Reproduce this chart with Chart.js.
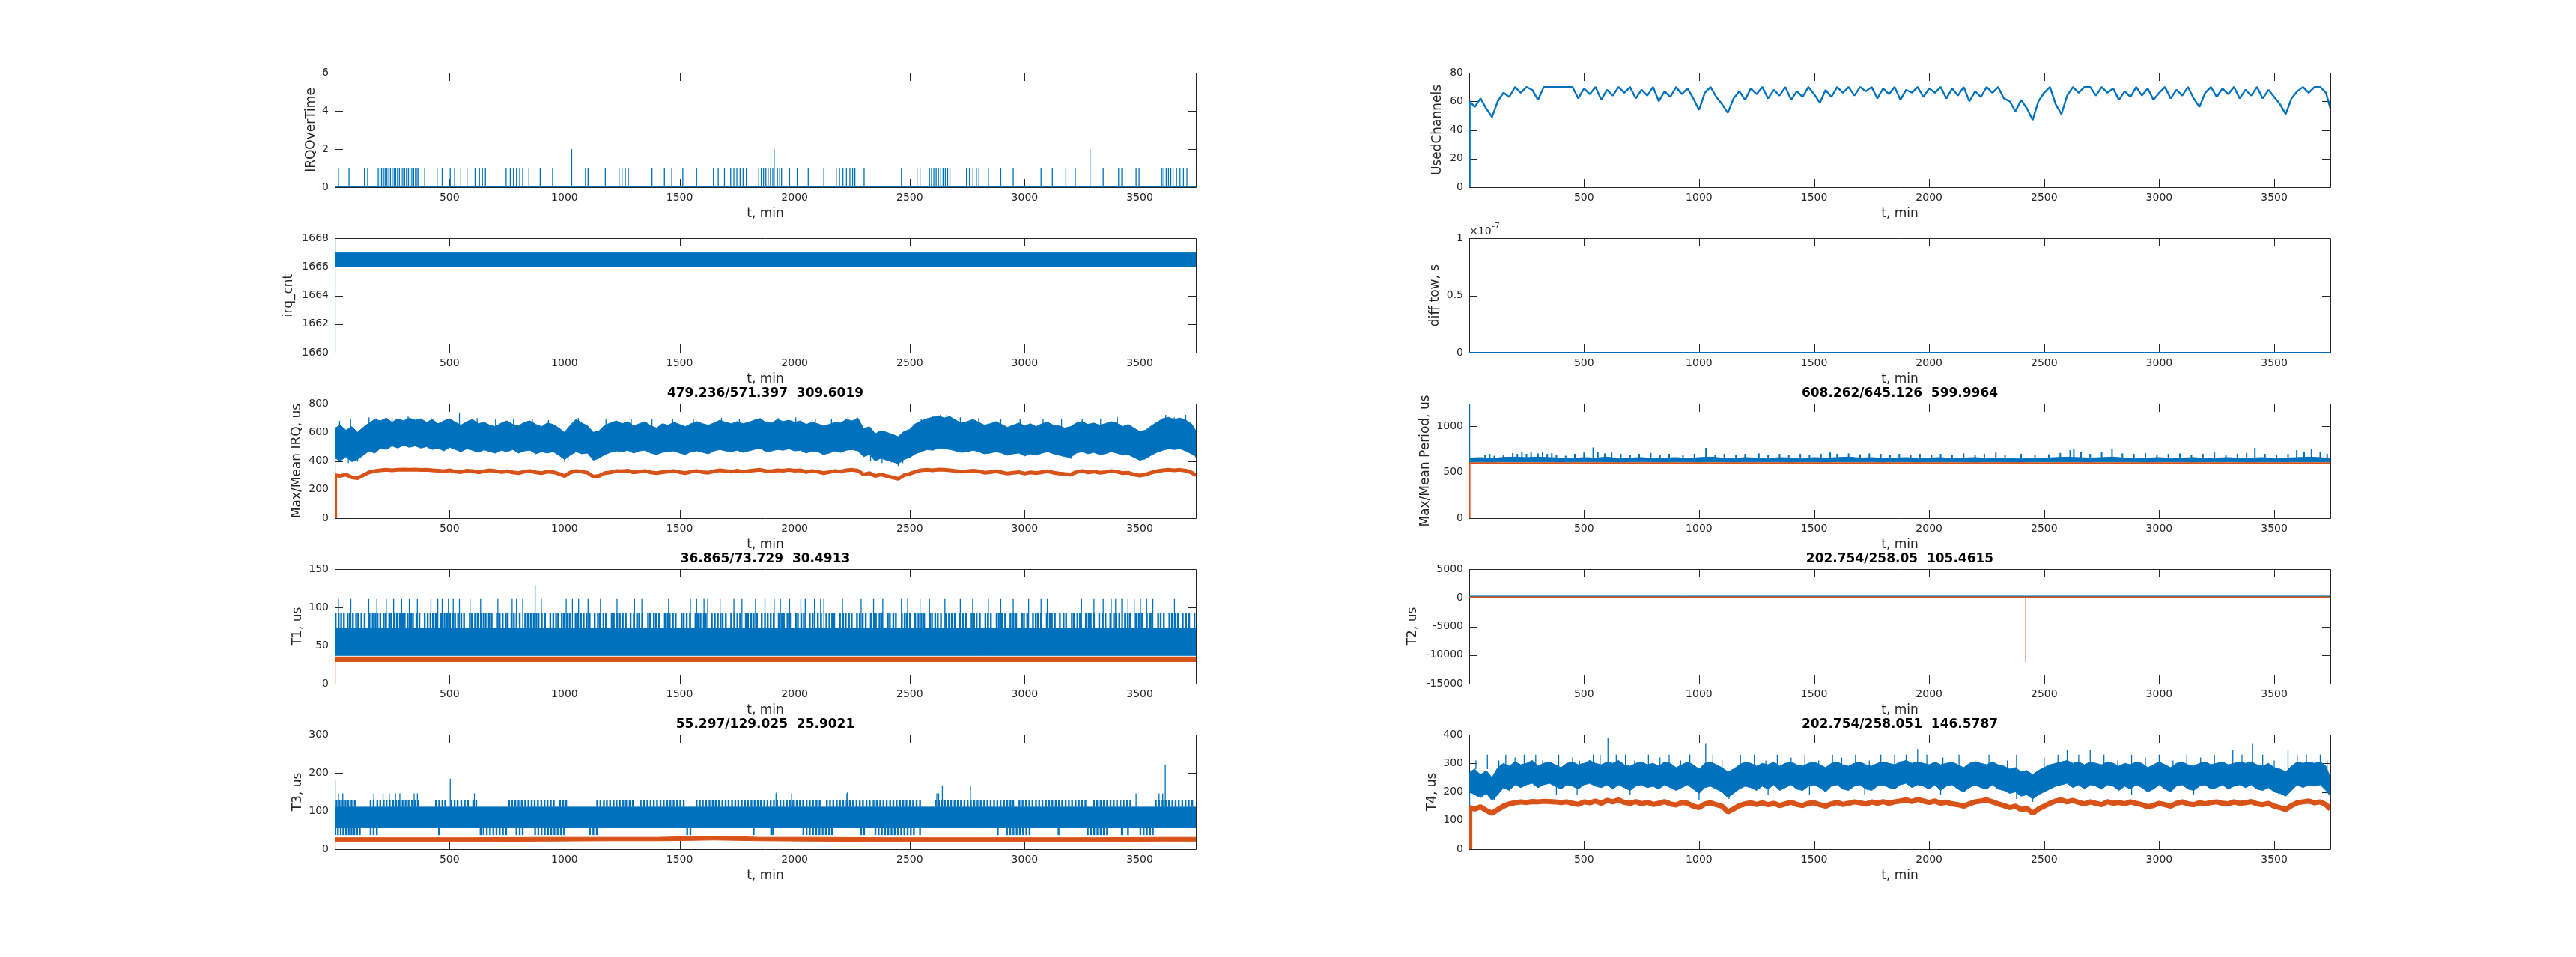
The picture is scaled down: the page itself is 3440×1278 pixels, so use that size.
<!DOCTYPE html>
<html>
<head>
<meta charset="utf-8">
<script src="https://cdn.jsdelivr.net/npm/chart.js@4.4.1/dist/chart.umd.min.js"></script>
<style>
html, body { margin: 0; padding: 0; background: #fff; }
body { width: 3440px; height: 1278px; position: relative; overflow: hidden; }
canvas { position: absolute; }
</style>
</head>
<body>
<script>
// ---- time axis (minutes) ----
const tRange = [1, 3744];
const xTickValues = [500, 1000, 1500, 2000, 2500, 3000, 3500];
const tEnds = [1, 3744];
const tStart = [1, 3, 3744];
const tGrid = [1, 3, 50, 100, 150, 200, 250, 300, 350, 400, 450, 500, 550, 600, 650, 700, 750, 800, 850, 900,
    950, 1000, 1050, 1100, 1150, 1200, 1250, 1300, 1350, 1400, 1450, 1500, 1550, 1600, 1650, 1700, 1750, 1800,
    1850, 1900, 1950, 2000, 2050, 2100, 2150, 2200, 2250, 2300, 2350, 2400, 2450, 2500, 2550, 2600, 2650, 2700,
    2750, 2800, 2850, 2900, 2950, 3000, 3050, 3100, 3150, 3200, 3250, 3300, 3350, 3400, 3450, 3500, 3550, 3600,
    3650, 3700, 3744];
const tFine = [1, 3, 25, 50, 75, 100, 125, 150, 175, 200, 225, 250, 275, 300, 325, 350, 375, 400, 425, 450, 475,
    500, 525, 550, 575, 600, 625, 650, 675, 700, 725, 750, 775, 800, 825, 850, 875, 900, 925, 950, 975, 1000,
    1025, 1050, 1075, 1100, 1125, 1150, 1175, 1200, 1225, 1250, 1275, 1300, 1325, 1350, 1375, 1400, 1425, 1450,
    1475, 1500, 1525, 1550, 1575, 1600, 1625, 1650, 1675, 1700, 1725, 1750, 1775, 1800, 1825, 1850, 1875, 1900,
    1925, 1950, 1975, 2000, 2025, 2050, 2075, 2100, 2125, 2150, 2175, 2200, 2225, 2250, 2275, 2300, 2325, 2350,
    2375, 2400, 2425, 2450, 2475, 2500, 2525, 2550, 2575, 2600, 2625, 2650, 2675, 2700, 2725, 2750, 2775, 2800,
    2825, 2850, 2875, 2900, 2925, 2950, 2975, 3000, 3025, 3050, 3075, 3100, 3125, 3150, 3175, 3200, 3225, 3250,
    3275, 3300, 3325, 3350, 3375, 3400, 3425, 3450, 3475, 3500, 3525, 3550, 3575, 3600, 3625, 3650, 3675, 3700,
    3725, 3744];

// ---- IRQOverTime ----
const irqOverBase = [0, 0];
const irqOverLevels = [1, 2, 6];
const irqOverOnce = [17, 63, 130, 144, 190, 198, 205, 213, 220, 228, 236, 243, 251, 259, 266, 274, 282, 290, 297,
    305, 313, 321, 328, 336, 344, 352, 359, 365, 392, 446, 468, 503, 522, 549, 576, 611, 630, 643, 656, 746, 764,
    778, 791, 805, 818, 845, 894, 948, 1091, 1102, 1177, 1237, 1250, 1264, 1277, 1380, 1434, 1466, 1514, 1574,
    1647, 1668, 1695, 1722, 1736, 1749, 1763, 1776, 1790, 1844, 1855, 1865, 1875, 1885, 1895, 1905, 1925, 1935,
    1943, 1978, 2011, 2059, 2127, 2181, 2195, 2210, 2225, 2240, 2252, 2262, 2302, 2464, 2532, 2545, 2586, 2595,
    2605, 2615, 2625, 2635, 2645, 2655, 2665, 2675, 2747, 2760, 2775, 2790, 2801, 2842, 2896, 2950, 3071, 3120,
    3179, 3220, 3341, 3408, 3422, 3484, 3497, 3597, 3605, 3615, 3625, 3635, 3645, 3660, 3675, 3690, 3705];
const irqOverTwice = [1031, 1911, 3284];
const irqOverFirst = [1];

// ---- irq_cnt ----
const irqCntLo = [1660, 1666, 1666];
const irqCntHi = [1668, 1667, 1667];

// ---- Max/Mean IRQ (on tFine) ----
const irqMaxHi = [620, 630,
    650, 615, 640, 600, 635, 665, 690, 680, 700, 670,
    695, 680, 700, 685, 695, 670, 690, 660, 680, 695,
    670, 650, 675, 690, 660, 670, 650, 640, 665, 680,
    655, 645, 670, 680, 655, 640, 665, 655, 630, 600,
    650, 690, 665, 645, 600, 610, 650, 665, 680, 660,
    675, 645, 660, 675, 645, 630, 660, 650, 670, 655,
    640, 660, 675, 660, 650, 665, 685, 670, 660, 675,
    660, 670, 685, 695, 670, 665, 690, 675, 685, 670,
    680, 655, 670, 660, 645, 655, 670, 665, 690, 680,
    700, 625, 640, 590, 610, 600, 585, 570, 605, 620,
    660, 680, 695, 705, 715, 700, 710, 685, 665, 675,
    690, 670, 650, 660, 675, 655, 635, 650, 665, 645,
    660, 640, 660, 670, 650, 645, 630, 640, 665, 675,
    655, 665, 650, 660, 675, 665, 640, 655, 630, 605,
    615, 645, 670, 695, 705, 690, 700, 685, 660,
    610];
const irqMaxLo = [0, 420,
    400, 430, 395, 410, 440, 470, 455, 490, 480, 505,
    490, 510, 495, 505, 490, 500, 480, 490, 470, 495,
    480, 465, 485, 475, 460, 478, 465, 455, 475, 465,
    480, 455, 470, 475, 450, 465, 455, 465, 440, 410,
    440, 465, 450, 455, 405, 420, 445, 460, 470, 465,
    475, 455, 470, 475, 455, 445, 460, 465, 470, 455,
    445, 465, 470, 460, 450, 470, 480, 470, 465, 475,
    460, 470, 480, 490, 465, 470, 480, 475, 485, 470,
    475, 455, 470, 465, 445, 455, 470, 460, 475, 480,
    470, 430, 445, 400, 420, 405, 395, 380, 410, 425,
    450, 465, 480, 475, 490, 485, 480, 470, 460, 465,
    475, 465, 450, 455, 465, 455, 440, 450, 455, 435,
    450, 440, 455, 465, 450, 440, 430, 425, 455, 465,
    450, 460, 445, 450, 465, 455, 440, 445, 425, 405,
    415, 440, 460, 475, 485, 480, 485, 470, 450,
    430];
const irqMean = [0, 300,
    295, 305, 285, 280, 300, 320, 330, 335, 338, 335,
    338, 340, 338, 340, 337, 338, 335, 332, 328, 335,
    325, 322, 332, 330, 320, 328, 335, 330, 322, 328,
    320, 315, 325, 330, 320, 315, 325, 322, 310, 295,
    320, 330, 325, 318, 290, 295, 315, 320, 330, 328,
    332, 320, 325, 330, 320, 315, 322, 325, 330, 322,
    315, 325, 330, 322, 318, 328, 335, 330, 325, 332,
    325, 330, 335, 338, 330, 328, 335, 332, 338, 332,
    335, 322, 330, 325, 315, 322, 330, 325, 335, 338,
    332, 305, 315, 295, 305, 295, 285, 275, 300, 310,
    325, 335, 338, 335, 340, 338, 335, 330, 325, 328,
    332, 328, 318, 322, 328, 320, 312, 318, 322, 312,
    320, 315, 322, 328, 318, 312, 308, 305, 322, 330,
    320, 326, 318, 322, 330, 325, 315, 318, 305, 298,
    305, 318, 328, 335, 338, 335, 338, 332, 320,
    300];
const irqMaxUp = [[22, 680], [70, 690], [150, 705], [184, 700], [250, 705], [320, 710], [420, 700], [543, 738],
    [620, 700], [700, 690], [778, 695], [860, 690], [930, 685], [1060, 700], [1180, 690], [1290, 695],
    [1380, 690], [1470, 695], [1560, 690], [1682, 700], [1760, 695], [1850, 700], [1930, 700], [2005, 705],
    [2090, 695], [2160, 690], [2232, 705], [2270, 700], [2550, 690], [2600, 710], [2634, 722], [2661, 722],
    [2720, 705], [2800, 700], [2896, 695], [2980, 690], [3080, 690], [3160, 695], [3250, 690], [3330, 695],
    [3403, 705], [3613, 722], [3650, 705], [3700, 722]];
const irqMaxDown = [[60, 385], [100, 395], [1000, 395], [1015, 405], [1130, 405], [1145, 410], [2330, 400],
    [2380, 385], [2420, 390], [2450, 365], [2470, 385], [3200, 415], [3500, 405], [3520, 410], [3744, 420]];
const irqSpikeBase = [600, 520];

// ---- T1 ----
const t1MaxLo = [37, 37, 37];
const t1MaxHi = [73, 73, 73];
const t1MeanLo = [0, 29, 29];
const t1MeanHi = [0, 35, 35];
const t1Levels = [73, 93, 111];
const t1To93 = [5, 18, 29, 41, 57, 66, 80, 94, 103, 117, 131, 152, 166, 178, 187, 199, 214, 223, 238, 246, 259,
    271, 284, 297, 305, 318, 333, 341, 356, 369, 392, 405, 417, 428, 440, 463, 478, 489, 502, 516, 524, 537, 551,
    563, 588, 597, 611, 622, 636, 648, 657, 671, 683, 709, 718, 731, 745, 753, 769, 780, 791, 805, 829, 840, 853,
    866, 878, 887, 901, 915, 938, 951, 963, 972, 988, 997, 1011, 1022, 1048, 1057, 1071, 1083, 1096, 1109, 1131,
    1145, 1153, 1169, 1180, 1205, 1214, 1229, 1240, 1253, 1266, 1287, 1301, 1315, 1324, 1338, 1363, 1372, 1388,
    1397, 1411, 1436, 1448, 1457, 1471, 1483, 1509, 1518, 1531, 1545, 1569, 1580, 1591, 1605, 1614, 1640, 1653,
    1666, 1678, 1687, 1701, 1724, 1738, 1751, 1763, 1788, 1797, 1811, 1822, 1836, 1857, 1871, 1883, 1896, 1909,
    1931, 1945, 1953, 1969, 1980, 2005, 2014, 2029, 2040, 2066, 2078, 2087, 2101, 2115, 2138, 2151, 2163, 2172,
    2197, 2211, 2222, 2236, 2248, 2271, 2283, 2296, 2309, 2331, 2345, 2353, 2369, 2380, 2405, 2414, 2429, 2440,
    2466, 2478, 2487, 2501, 2524, 2538, 2551, 2563, 2588, 2597, 2611, 2622, 2636, 2657, 2671, 2683, 2696, 2718,
    2731, 2745, 2769, 2780, 2791, 2805, 2829, 2840, 2853, 2878, 2887, 2901, 2915, 2938, 2951, 2963, 2988, 2997,
    3011, 3036, 3048, 3057, 3071, 3096, 3109, 3118, 3131, 3153, 3169, 3180, 3205, 3214, 3229, 3240, 3266, 3278,
    3287, 3301, 3324, 3338, 3351, 3372, 3388, 3397, 3411, 3436, 3448, 3457, 3483, 3496, 3509, 3531, 3545, 3553,
    3580, 3591, 3605, 3629, 3640, 3653, 3666, 3687, 3701, 3715, 3738];
const t1To111 = [17, 71, 149, 184, 225, 257, 292, 325, 360, 419, 449, 468, 495, 516, 543, 589, 635, 710, 772, 791,
    818, 899, 1007, 1034, 1061, 1102, 1156, 1228, 1304, 1336, 1452, 1547, 1574, 1606, 1622, 1676, 1736, 1771,
    1830, 1871, 1911, 1938, 1978, 2027, 2046, 2086, 2113, 2127, 2208, 2289, 2343, 2383, 2464, 2491, 2545, 2586,
    2653, 2720, 2774, 2842, 2896, 2950, 3017, 3071, 3098, 3247, 3301, 3341, 3376, 3395, 3422, 3449, 3476, 3503,
    3530, 3557, 3651];
const t1Peak = [[872, 129]];

// ---- T3 ----
const t3MaxLo = [56, 56, 56];
const t3MaxHi = [180, 110, 110];
const t3Levels = [56, 110, 128, 146, 37];
const t3MeanT = [1, 3, 300, 600, 900, 1200, 1400, 1550, 1650, 1750, 1850, 2100, 2400, 2700, 3000, 3300, 3600, 3744];
const t3MeanHi = [0, 30, 30, 30, 31, 31, 31, 33, 34, 33, 31, 31, 30, 30, 30, 30, 31, 31];
const t3MeanLo = [0, 20, 20, 20, 21, 22, 22, 23, 24, 23, 22, 21, 20, 20, 20, 20, 21, 21];
const t3To128 = [9, 22, 35, 48, 60, 74, 88, 157, 170, 186, 199, 214, 226, 240, 255, 268, 281, 296, 309, 322, 337,
    350, 364, 441, 455, 469, 481, 508, 522, 535, 551, 566, 580, 603, 616, 759, 772, 786, 800, 814, 829, 843, 857,
    870, 884, 899, 913, 926, 940, 953, 980, 994, 1007, 1142, 1156, 1171, 1184, 1198, 1213, 1226, 1240, 1255,
    1268, 1283, 1297, 1331, 1345, 1360, 1374, 1388, 1402, 1417, 1431, 1446, 1460, 1474, 1489, 1503, 1518, 1574,
    1588, 1601, 1615, 1630, 1644, 1657, 1671, 1686, 1700, 1713, 1728, 1742, 1755, 1770, 1784, 1797, 1812, 1826,
    1840, 1853, 1868, 1882, 1896, 1910, 1924, 1938, 1951, 1966, 1980, 1994, 2009, 2023, 2037, 2052, 2066, 2080,
    2095, 2109, 2140, 2154, 2168, 2183, 2197, 2211, 2226, 2240, 2254, 2269, 2283, 2297, 2312, 2326, 2343, 2357,
    2372, 2386, 2400, 2415, 2429, 2443, 2458, 2472, 2486, 2501, 2515, 2530, 2545, 2613, 2627, 2641, 2653, 2666,
    2680, 2695, 2709, 2723, 2738, 2752, 2766, 2781, 2795, 2809, 2824, 2838, 2852, 2867, 2881, 2895, 2910, 2924,
    2938, 2950, 2977, 2991, 3006, 3020, 3034, 3049, 3063, 3077, 3092, 3106, 3120, 3135, 3149, 3163, 3178, 3192,
    3206, 3221, 3235, 3249, 3264, 3301, 3315, 3330, 3344, 3358, 3373, 3387, 3401, 3416, 3430, 3444, 3459, 3570,
    3584, 3599, 3613, 3627, 3642, 3656, 3670, 3685, 3699, 3713, 3728];
const t3To146 = [17, 36, 171, 211, 238, 265, 284, 346, 360, 608, 1919, 1987, 2227, 2618, 2626, 3484, 3584, 3600];
const t3Peaks = [[503, 185], [3611, 222], [2642, 167], [2764, 167], [1922, 150], [2230, 150]];
const t3To37 = [4, 15, 27, 38, 50, 62, 74, 86, 98, 110, 157, 170, 184, 454, 635, 648, 662, 676, 690, 704, 718,
    732, 746, 791, 805, 818, 872, 886, 900, 914, 928, 942, 956, 970, 984, 998, 1110, 1125, 1140, 1533, 1547, 1822,
    1898, 1906, 2038, 2052, 2066, 2080, 2094, 2108, 2122, 2136, 2150, 2162, 2289, 2302, 2351, 2365, 2379, 2393,
    2407, 2421, 2435, 2449, 2463, 2477, 2491, 2505, 2518, 2545, 2883, 2923, 2937, 2951, 2965, 2979, 2993, 3007,
    3021, 3147, 3274, 3288, 3302, 3316, 3330, 3344, 3358, 3422, 3449, 3503, 3517, 3531, 3545, 3557];

// ---- UsedChannels (on tFine) ----
const usedChannels = [0, 60, 56, 62, 55, 49, 60, 66, 63, 70, 66, 70,
    68, 61, 70, 70, 70, 70, 70, 70, 62, 69,
    65, 70, 61, 68, 64, 70, 66, 70, 62, 68,
    64, 70, 60, 67, 63, 70, 65, 69, 62, 54,
    66, 70, 63, 58, 52, 62, 67, 61, 69, 65,
    70, 62, 68, 64, 70, 61, 67, 63, 70, 65,
    59, 68, 63, 70, 66, 70, 64, 70, 67, 70,
    62, 69, 65, 70, 61, 68, 66, 70, 63, 69,
    66, 70, 62, 69, 64, 70, 60, 67, 63, 70,
    66, 70, 62, 60, 53, 61, 55, 47, 60, 66,
    70, 58, 51, 64, 70, 66, 70, 70, 64, 70,
    66, 69, 61, 67, 63, 70, 64, 69, 61, 66,
    70, 62, 68, 64, 70, 62, 56, 66, 70, 63,
    69, 65, 70, 62, 68, 64, 70, 62, 68, 63,
    58, 51, 62, 67, 70, 66, 70, 70, 66,
    55];

// ---- diff tow ----
const diffTow = [0, 0];
const diffTowTicks = [0, 0.5e-7, 1e-7];

// ---- Max/Mean Period (on tGrid) ----
const periodMaxHi = [1246, 655, 660, 650, 662, 665, 660, 665, 660, 655,
    650, 660, 655, 665, 650, 655, 660, 650, 655, 660,
    650, 660, 665, 655, 650, 660, 655, 650, 660, 655,
    650, 660, 655, 660, 665, 655, 660, 650, 655, 660,
    650, 655, 660, 650, 655, 660, 650, 655, 648, 645,
    650, 655, 660, 665, 660, 655, 660, 665, 655, 650,
    655, 660, 650, 655, 660, 650, 655, 660, 650, 655,
    660, 650, 655, 660, 665, 660, 650];
const periodMaxLo = [600, 612, 612, 610, 614, 612, 615, 612, 613, 611,
    612, 614, 612, 613, 610, 612, 614, 612, 611, 613,
    612, 610, 614, 612, 611, 613, 612, 614, 612, 610,
    613, 612, 611, 614, 612, 613, 612, 610, 614, 612,
    611, 613, 612, 614, 612, 610, 613, 612, 611, 610,
    612, 614, 612, 613, 612, 611, 614, 612, 613, 612,
    610, 612, 614, 612, 611, 613, 612, 614, 612, 610,
    613, 612, 611, 614, 612, 613, 612];
const periodMean = [0, 600, 600];
const periodSpikeBase = [640];
const periodUp = [[70, 690], [90, 700], [110, 680], [150, 690], [190, 710], [210, 700], [230, 715], [250, 700],
    [270, 715], [300, 705], [320, 715], [340, 700], [360, 710], [380, 690], [420, 680], [460, 700], [500, 715],
    [540, 770], [560, 720], [590, 705], [620, 715], [660, 700], [700, 690], [740, 700], [790, 710], [830, 690],
    [870, 700], [930, 690], [980, 700], [1030, 765], [1070, 690], [1110, 700], [1160, 690], [1200, 700],
    [1260, 705], [1300, 690], [1350, 700], [1390, 690], [1440, 700], [1480, 690], [1530, 700], [1570, 715],
    [1600, 700], [1650, 705], [1700, 695], [1740, 705], [1790, 700], [1830, 690], [1870, 700], [1920, 690],
    [1960, 700], [2010, 690], [2050, 700], [2100, 690], [2150, 705], [2200, 690], [2240, 700], [2290, 715],
    [2330, 690], [2400, 700], [2460, 690], [2520, 695], [2570, 710], [2613, 740], [2629, 754], [2660, 720],
    [2700, 700], [2750, 720], [2795, 754], [2840, 705], [2890, 700], [2940, 710], [2990, 690], [3040, 700],
    [3090, 705], [3140, 690], [3190, 700], [3240, 715], [3290, 690], [3340, 700], [3380, 710], [3416, 765],
    [3460, 700], [3510, 690], [3560, 700], [3598, 740], [3630, 720], [3662, 754], [3700, 720], [3730, 700]];

// ---- T2 ----
const t2MaxLo = [150, 150];
const t2MaxHi = [300, 300];
const t2Mean = [100, 100];
const t2MeanBase = [100];
const t2Drop = [[2420, -11217]];

// ---- T4 (on tFine) ----
const t4MaxHi = [0, 270,
    280, 260, 275, 250, 285, 300, 290, 305, 295, 300,
    310, 290, 300, 305, 295, 285, 300, 305, 295, 300,
    310, 300, 295, 305, 300, 310, 295, 290, 300, 305,
    295, 300, 290, 305, 300, 285, 295, 305, 295, 280,
    300, 305, 295, 285, 270, 280, 295, 305, 300, 290,
    300, 295, 305, 290, 300, 305, 295, 290, 300, 305,
    295, 285, 300, 305, 295, 290, 300, 305, 295, 290,
    300, 305, 300, 295, 305, 310, 300, 305, 300, 295,
    305, 295, 300, 305, 295, 285, 300, 305, 300, 295,
    305, 295, 290, 280, 285, 270, 275, 260, 275, 285,
    295, 300, 305, 310, 300, 305, 295, 305, 300, 295,
    305, 300, 290, 300, 295, 305, 300, 285, 295, 305,
    295, 285, 300, 305, 295, 290, 300, 305, 295, 300,
    305, 295, 300, 305, 300, 305, 295, 290, 300, 285,
    280, 270, 290, 305, 300, 305, 300, 305, 290,
    250];
const t4MaxLo = [0, 200,
    190, 180, 195, 170, 190, 215, 205, 225, 215, 225,
    230, 215, 225, 230, 220, 210, 225, 220, 210, 225,
    230, 220, 215, 225, 210, 225, 215, 205, 220, 225,
    215, 220, 210, 225, 215, 205, 215, 225, 210, 195,
    215, 220, 210, 200, 180, 195, 210, 220, 215, 205,
    220, 210, 225, 205, 215, 225, 210, 205, 220, 225,
    215, 200, 220, 225, 210, 205, 220, 225, 210, 205,
    220, 225, 215, 210, 225, 230, 215, 225, 220, 210,
    225, 205, 220, 225, 210, 200, 215, 225, 215, 210,
    225, 210, 205, 195, 200, 185, 190, 175, 190, 200,
    210, 220, 225, 230, 215, 225, 210, 225, 220, 210,
    225, 220, 205, 220, 210, 225, 215, 200, 210, 225,
    210, 200, 220, 225, 210, 205, 220, 225, 210, 215,
    225, 210, 220, 225, 215, 225, 210, 205, 215, 200,
    195, 185, 205, 225, 215, 225, 220, 225, 205,
    185];
const t4Mean = [0, 145,
    140, 148, 135, 125, 138, 150, 158, 162, 165, 163,
    166, 165, 167, 166, 165, 163, 165, 160, 156, 165,
    162, 168, 160, 170, 165, 172, 163, 160, 166, 158,
    164, 156, 160, 166, 158, 154, 163, 160, 150, 145,
    158, 162, 155, 150, 130, 140, 152, 158, 162, 156,
    162, 155, 160, 152, 158, 164, 156, 152, 160, 162,
    155, 150, 158, 163, 156, 160, 165, 162, 157, 165,
    160, 166, 160, 165, 168, 172, 166, 174, 168, 163,
    168, 160, 164, 158, 155, 150, 158, 165, 168, 172,
    165, 158, 152, 145, 150, 138, 142, 125, 140, 150,
    160, 168, 172, 165, 170, 163, 158, 165, 160, 155,
    166, 160, 163, 158, 165, 160, 155, 148, 152, 160,
    155, 150, 160, 165, 158, 155, 162, 158, 163, 165,
    160, 158, 165, 160, 162, 166, 158, 155, 160, 150,
    145, 138, 152, 162, 165, 168, 162, 165, 155,
    140];
const t4SpikeBase = [280, 230];
const t4Up = [[30, 310], [80, 330], [130, 310], [160, 330], [200, 320], [240, 330], [290, 330], [320, 310],
    [390, 330], [450, 320], [480, 310], [540, 330], [570, 330], [604, 388], [640, 330], [680, 330], [720, 310],
    [780, 330], [830, 320], [870, 330], [920, 310], [960, 330], [1029, 370], [1060, 330], [1100, 310],
    [1180, 330], [1240, 330], [1290, 310], [1340, 330], [1400, 320], [1460, 330], [1520, 310], [1580, 330],
    [1620, 320], [1680, 330], [1740, 310], [1790, 330], [1850, 330], [1900, 330], [1950, 350], [1990, 330],
    [2060, 320], [2130, 330], [2200, 310], [2260, 330], [2340, 310], [2380, 330], [2500, 320], [2560, 330],
    [2600, 345], [2650, 330], [2700, 345], [2760, 330], [2820, 310], [2880, 330], [2940, 320], [3000, 330],
    [3060, 310], [3120, 330], [3180, 320], [3240, 330], [3320, 345], [3360, 330], [3405, 370], [3450, 330],
    [3500, 310], [3560, 345], [3600, 330], [3640, 330], [3700, 330], [3730, 310]];
const t4Down = [[110, 170], [380, 190], [470, 190], [700, 190], [1000, 170], [1130, 175], [1300, 190],
    [1480, 190], [1720, 190], [2050, 190], [2380, 175], [2450, 165], [2880, 190], [3150, 190], [3520, 190],
    [3560, 180]];

// ---- look ----
const BLUE = "#0072BD";
const ORANGE = "#D95319";
const AXIS = "#262626";
const AX_LEFT = [447, 1962];
const AX_TOP = [97, 318, 539, 760, 981];
const AX_W = 1150, AX_H = 153;
const TOP_PAD = 45, BOTTOM_PAD = 50, RIGHT_PAD = 12;

Chart.defaults.font.family = "DejaVu Sans";
Chart.defaults.color = AXIS;

function pts(ts, vs) {
    return ts.map((t, i) => ({x: t, y: vs[i]}));
}

function line(ts, vs, color, width, order) {
    return {type: "line", data: pts(ts, vs), borderColor: color, borderWidth: width,
        pointRadius: 0, fill: false, tension: 0, borderJoinStyle: "bevel", order: order};
}

function band(ts, lo, hi, color, order) {
    return [
        {type: "line", data: pts(ts, lo), borderColor: color, borderWidth: 1, pointRadius: 0, fill: false, order: order},
        {type: "line", data: pts(ts, hi), borderColor: color, borderWidth: 1, pointRadius: 0,
            fill: "-1", backgroundColor: color, order: order}
    ];
}

// vertical needles between two levels at each listed time
function stems(times, lo, hi, color, order, width) {
    return {type: "bar", data: times.map(t => ({x: t, y: [lo, hi]})), backgroundColor: color,
        barThickness: width || 1.3, inflateAmount: 0, borderWidth: 0, grouped: false, order: order};
}

function needles(pairs, base, color, order, width) {
    return {type: "bar", data: pairs.map(p => ({x: p[0], y: [base, p[1]]})), backgroundColor: color,
        barThickness: width || 1.3, inflateAmount: 0, borderWidth: 0, grouped: false, order: order};
}

const boxPlugin = {
    id: "box",
    beforeDatasetsDraw(chart) {
        const {ctx, chartArea: a, scales: {x, y}} = chart;
        const tick = 11;
        ctx.save();
        ctx.strokeStyle = AXIS;
        ctx.lineWidth = 1;
        ctx.beginPath();
        ctx.rect(a.left + 0.5, a.top + 0.5, a.right - a.left, a.bottom - a.top);
        x.ticks.forEach(t => {
            const px = Math.round(x.getPixelForValue(t.value)) + 0.5;
            ctx.moveTo(px, a.bottom);
            ctx.lineTo(px, a.bottom - tick);
            ctx.moveTo(px, a.top);
            ctx.lineTo(px, a.top + tick);
        });
        y.ticks.forEach(t => {
            const py = Math.round(y.getPixelForValue(t.value)) + 0.5;
            ctx.moveTo(a.left, py);
            ctx.lineTo(a.left + tick, py);
            ctx.moveTo(a.right, py);
            ctx.lineTo(a.right - tick, py);
        });
        ctx.stroke();
        ctx.restore();
    },
    afterDraw(chart, args, opts) {
        if (!opts.exponent) return;
        const {ctx, chartArea: a} = chart;
        ctx.save();
        ctx.fillStyle = AXIS;
        ctx.textBaseline = "alphabetic";
        ctx.font = "14px 'DejaVu Sans'";
        ctx.fillText("\u00d710", a.left, a.top - 5);
        const w = ctx.measureText("\u00d710").width;
        ctx.font = "10px 'DejaVu Sans'";
        ctx.fillText(opts.exponent, a.left + w + 1, a.top - 13);
        ctx.restore();
    }
};

const plain = v => String(v);

const panels = [
    {col: 0, row: 0, labelX: 415, ylabel: "IRQOverTime", yMin: 0, yMax: 6, yTicks: [0, 2, 4, 6],
        datasets: [
            line(tEnds, irqOverBase, BLUE, 2, 2),
            stems(irqOverOnce, 0, irqOverLevels[0], BLUE, 2),
            stems(irqOverTwice, 0, irqOverLevels[1], BLUE, 2),
            stems(irqOverFirst, 0, irqOverLevels[2], BLUE, 2)
        ]},
    {col: 0, row: 1, labelX: 385, ylabel: "irq_cnt", yMin: 1660, yMax: 1668, yTicks: [1660, 1662, 1664, 1666, 1668],
        datasets: band(tStart, irqCntLo, irqCntHi, BLUE, 2)},
    {col: 0, row: 2, labelX: 396, ylabel: "Max/Mean IRQ, us", title: "479.236/571.397  309.6019",
        yMin: 0, yMax: 800, yTicks: [0, 200, 400, 600, 800],
        datasets: [
            ...band(tFine, irqMaxLo, irqMaxHi, BLUE, 3),
            needles(irqMaxUp, irqSpikeBase[0], BLUE, 2),
            needles(irqMaxDown, irqSpikeBase[1], BLUE, 2),
            line(tFine, irqMean, ORANGE, 5, 1)
        ]},
    {col: 0, row: 3, labelX: 397, ylabel: "T1, us", title: "36.865/73.729  30.4913",
        yMin: 0, yMax: 150, yTicks: [0, 50, 100, 150],
        datasets: [
            ...band(tStart, t1MaxLo, t1MaxHi, BLUE, 3),
            stems(t1To93, t1Levels[0], t1Levels[1], BLUE, 2, 2.4),
            stems(t1To111, t1Levels[0], t1Levels[2], BLUE, 2),
            needles(t1Peak, t1Levels[0], BLUE, 2),
            ...band(tStart, t1MeanLo, t1MeanHi, ORANGE, 1)
        ]},
    {col: 0, row: 4, labelX: 397, ylabel: "T3, us", title: "55.297/129.025  25.9021",
        yMin: 0, yMax: 300, yTicks: [0, 100, 200, 300],
        datasets: [
            ...band(tStart, t3MaxLo, t3MaxHi, BLUE, 3),
            stems(t3To128, t3Levels[1], t3Levels[2], BLUE, 2, 2.4),
            stems(t3To146, t3Levels[1], t3Levels[3], BLUE, 2),
            needles(t3Peaks, t3Levels[1], BLUE, 2),
            stems(t3To37, t3Levels[4], t3Levels[0], BLUE, 2, 2.4),
            ...band(t3MeanT, t3MeanLo, t3MeanHi, ORANGE, 1)
        ]},
    {col: 1, row: 0, labelX: 1919, ylabel: "UsedChannels", yMin: 0, yMax: 80, yTicks: [0, 20, 40, 60, 80],
        datasets: [line(tFine, usedChannels, BLUE, 2.4, 2)]},
    {col: 1, row: 1, labelX: 1916, ylabel: "diff tow, s", yMin: 0, yMax: 1e-7, yTicks: diffTowTicks,
        exponent: "-7", yFmt: v => String(Math.round(v / 1e-7 * 10) / 10),
        datasets: [line(tEnds, diffTow, BLUE, 2, 2)]},
    {col: 1, row: 2, labelX: 1903, ylabel: "Max/Mean Period, us", title: "608.262/645.126  599.9964",
        yMin: 0, yMax: 1246, yTicks: [0, 500, 1000],
        datasets: [
            ...band(tGrid, periodMaxLo, periodMaxHi, BLUE, 3),
            needles(periodUp, periodSpikeBase[0], BLUE, 2, 2),
            line(tStart, periodMean, ORANGE, 2, 1)
        ]},
    {col: 1, row: 3, labelX: 1886, ylabel: "T2, us", title: "202.754/258.05  105.4615",
        yMin: -15000, yMax: 5000, yTicks: [-15000, -10000, -5000, 0, 5000],
        datasets: [
            ...band(tEnds, t2MaxLo, t2MaxHi, BLUE, 3),
            line(tEnds, t2Mean, ORANGE, 2, 1),
            needles(t2Drop, t2MeanBase[0], ORANGE, 1)
        ]},
    {col: 1, row: 4, labelX: 1912, ylabel: "T4, us", title: "202.754/258.051  146.5787",
        yMin: 0, yMax: 400, yTicks: [0, 100, 200, 300, 400],
        datasets: [
            ...band(tFine, t4MaxLo, t4MaxHi, BLUE, 3),
            needles(t4Up, t4SpikeBase[0], BLUE, 2),
            needles(t4Down, t4SpikeBase[1], BLUE, 2),
            line(tFine, t4Mean, ORANGE, 7, 1)
        ]}
];

panels.forEach(p => {
    const axLeft = AX_LEFT[p.col];
    const axTop = AX_TOP[p.row];
    const left = p.labelX - 10;
    const yW = axLeft - left;

    const cv = document.createElement("canvas");
    cv.width = yW + AX_W + RIGHT_PAD;
    cv.height = TOP_PAD + AX_H + BOTTOM_PAD;
    cv.style.left = left + "px";
    cv.style.top = (axTop - TOP_PAD) + "px";
    document.body.appendChild(cv);

    new Chart(cv, {
        type: "line",
        data: {datasets: p.datasets},
        options: {
            responsive: false,
            animation: false,
            events: [],
            layout: {padding: {top: p.title ? 0 : TOP_PAD, right: RIGHT_PAD, left: 0, bottom: 0}},
            plugins: {
                legend: {display: false},
                tooltip: {enabled: false},
                title: {
                    display: !!p.title,
                    text: p.title || "",
                    fullSize: false,
                    color: "#000000",
                    font: {size: 17, weight: "bold"},
                    padding: {top: 21.6, bottom: 3}
                },
                box: {exponent: p.exponent || null}
            },
            scales: {
                x: {
                    type: "linear",
                    min: tRange[0],
                    max: tRange[1],
                    offset: false,
                    afterBuildTicks: s => { s.ticks = xTickValues.map(v => ({value: v})); },
                    afterFit: s => { s.height = BOTTOM_PAD; },
                    grid: {display: false, drawTicks: false, offset: false},
                    border: {display: false},
                    ticks: {padding: 6, maxRotation: 0, autoSkip: false, color: AXIS, font: {size: 14}, callback: plain},
                    title: {display: true, text: "t, min", color: AXIS, font: {size: 17}, padding: {top: 0, bottom: 4.3}}
                },
                y: {
                    type: "linear",
                    min: p.yMin,
                    max: p.yMax,
                    afterBuildTicks: s => { s.ticks = p.yTicks.map(v => ({value: v})); },
                    afterFit: s => { s.width = yW; },
                    grid: {display: false, drawTicks: false},
                    border: {display: false},
                    ticks: {padding: 8, color: AXIS, font: {size: 14}, callback: p.yFmt || plain},
                    title: {display: true, text: p.ylabel, color: AXIS, font: {size: 17}, padding: 0}
                }
            }
        },
        plugins: [boxPlugin]
    });
});
</script>
</body>
</html>
